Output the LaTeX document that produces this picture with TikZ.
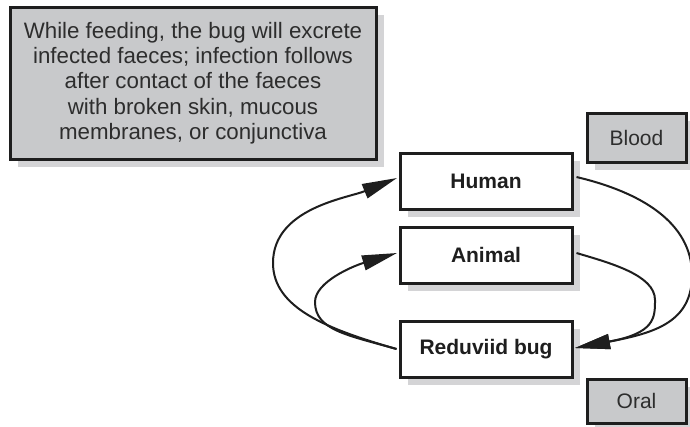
\documentclass[tikz,border=0pt]{standalone}
\usepackage{fontspec}
\setmainfont{Liberation Sans}
\usetikzlibrary{arrows.meta,shadows}
\definecolor{boxgrey}{RGB}{200,201,203}
\definecolor{shadowgrey}{RGB}{212,212,214}
\definecolor{linecol}{RGB}{30,30,30}
\definecolor{textcol}{RGB}{45,45,45}
\begin{document}
\begin{tikzpicture}[x=1pt,y=-1pt,
 shadowed/.style={drop shadow={shadow xshift=8pt, shadow yshift=-8pt, fill=shadowgrey, opacity=1}},
 greybox/.style={draw=linecol, line width=3pt, fill=boxgrey, shadowed, inner sep=0pt, text=textcol, font=\fontsize{21}{25.3}\selectfont, align=center},
 hostbox/.style={draw=linecol, line width=3pt, fill=white, shadowed, minimum width=172pt, minimum height=56pt, inner sep=0pt, font=\fontsize{21}{25}\selectfont\bfseries, text=linecol},
 flowline/.style={draw=linecol, line width=2pt, -{Triangle[length=35pt,width=15pt]}}]
\useasboundingbox (0,0) rectangle (690,426);
\node[greybox, minimum width=366pt, minimum height=152pt, font=\fontsize{22.3}{25.3}\selectfont] (note) at (193,83) {While feeding, the bug will excrete\\infected faeces; infection follows\\after contact of the faeces\\with broken skin, mucous\\membranes, or conjunctiva};
\node[hostbox] (human) at (486,181) {Human};
\node[hostbox] (animal) at (486,255) {Animal};
\node[hostbox] (bug) at (486,349) {Reduviid bug};
\node[greybox, minimum width=99pt, minimum height=49pt] (blood) at (636.5,137.5) {Blood};
\node[greybox, minimum width=99pt, minimum height=44pt] (oral) at (636.5,401) {Oral};
% left side
\draw[flowline] ([xshift=-2pt]bug.west) .. controls (327,329) and (273,308) .. (273,263)
   .. controls (273,208) and (348,198) .. ([xshift=-1.5pt,yshift=3pt]human.west);
\draw[flowline] ([xshift=-2pt]bug.west) .. controls (347,335) and (315,330) .. (315,302)
   .. controls (315,282) and (353,266) .. ([xshift=-1.5pt,yshift=2pt]animal.west);
% right side
\draw[flowline] ([xshift=3pt,yshift=4pt]human.east) .. controls (640,192) and (692,222) .. (692,275)
   .. controls (692,322) and (655,333) .. ([xshift=1.5pt,yshift=1pt]bug.east);
\draw[flowline] ([xshift=3pt,yshift=2pt]animal.east) .. controls (610,263) and (655,275) .. (655,300)
   .. controls (655,318) and (655,333) .. ([xshift=1.5pt,yshift=1pt]bug.east);
\end{tikzpicture}
\end{document}
